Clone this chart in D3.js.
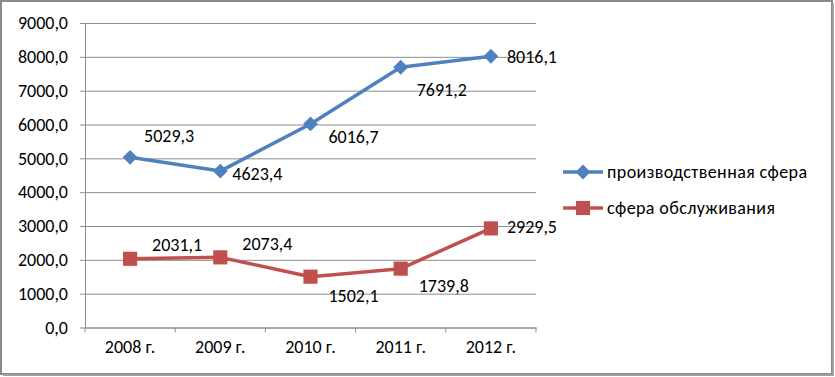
<!DOCTYPE html>
<html>
<head>
<meta charset="utf-8">
<script src="https://cdn.jsdelivr.net/npm/d3@7"></script>
<style>
  html, body { margin: 0; padding: 0; background: #fff; }
  #chart { width: 835px; height: 377px; }
</style>
</head>
<body>
<div id="chart"></div>
<script>
// Data
const years = ["2008 г.", "2009 г.", "2010 г.", "2011 г.", "2012 г."];
const production = [5029.3, 4623.4, 6016.7, 7691.2, 8016.1];
const services = [2031.1, 2073.4, 1502.1, 1739.8, 2929.5];
const seriesNames = ["производственная сфера", "сфера обслуживания"];
const yTicks = [0, 1000, 2000, 3000, 4000, 5000, 6000, 7000, 8000, 9000];

// label offsets per point (relative to marker), mimic Excel placement
const prodLabelPos = [[14, -22], [12, 3], [18, 13], [16, 22], [16, 0]];
const servLabelPos = [[22, -14], [22, -14], [18, 19], [18, 17], [16, -2]];

const W = 835, H = 377;
const margin = { top: 23, right: 299, bottom: 49.5, left: 85 };
const iW = W - margin.left - margin.right;
const iH = H - margin.top - margin.bottom;
const FONT = "Carlito, Lato, 'Open Sans', sans-serif";
const FS = 18;
const BLUE = "#4F81BD", RED = "#C0504D";

const fmt = v => d3.format(".1f")(v).replace(".", ",");

const svg = d3.select("#chart").append("svg")
  .attr("width", W).attr("height", H)
  .style("font-family", FONT);

// outer frame
svg.append("rect").attr("x", 1).attr("y", 1).attr("width", W - 4).attr("height", H - 4)
  .attr("fill", "#fff").attr("stroke", "#8a8a8a").attr("stroke-width", 2);
svg.append("path").attr("d", `M${W - 2},3V${H - 2}H3`)
  .attr("fill", "none").attr("stroke", "#a0a0a0").attr("stroke-width", 2);

const g = svg.append("g").attr("transform", `translate(${margin.left},${margin.top})`);

const x = d3.scaleBand().domain(years).range([0, iW]);
const y = d3.scaleLinear().domain([0, 9000]).range([iH, 0]);
const cx = d => x(d) + x.bandwidth() / 2;

// gridlines
g.append("g")
  .call(d3.axisLeft(y).tickValues(yTicks).tickSize(-iW).tickFormat(""))
  .call(a => a.select(".domain").remove())
  .call(a => a.selectAll(".tick line").attr("x1", -5).attr("x2", iW).attr("stroke", "#8c8c8c"));

// y axis
g.append("g")
  .call(d3.axisLeft(y).tickValues(yTicks).tickSize(0).tickPadding(17).tickFormat(fmt))
  .call(a => a.select(".domain").attr("stroke", "#8c8c8c"))
  .call(a => a.selectAll("text").attr("fill", "#000").attr("font-size", FS).style("font-family", FONT));

// x axis
g.append("g")
  .attr("transform", `translate(0,${iH})`)
  .call(d3.axisBottom(x).tickSize(0).tickPadding(13))
  .call(a => a.select(".domain").attr("stroke", "#8c8c8c"))
  .call(a => a.selectAll("text").attr("fill", "#000").attr("font-size", FS).style("font-family", FONT));

// tick marks at band boundaries
g.append("g").selectAll("line").data(d3.range(years.length + 1))
  .join("line")
  .attr("x1", i => i * x.step()).attr("x2", i => i * x.step())
  .attr("y1", iH).attr("y2", iH + 5)
  .attr("stroke", "#8c8c8c");

const line = d3.line().x((d, i) => cx(years[i])).y(d => y(d));

function marker(sel, shape) {
  // diamond = square rotated 45°
  if (shape === "diamond") {
    sel.attr("d", d3.symbol().type(d3.symbolSquare).size(110)())
      .attr("transform", function() { return d3.select(this).attr("transform") + " rotate(45)"; });
  } else {
    sel.attr("d", d3.symbol().type(d3.symbolSquare).size(200)());
  }
}

function drawSeries(vals, color, shape, labelPos) {
  g.append("path").datum(vals)
    .attr("d", line)
    .attr("fill", "none").attr("stroke", color).attr("stroke-width", 3.5)
    .attr("stroke-linejoin", "round");
  g.selectAll(null).data(vals).join("path")
    .attr("transform", (d, i) => `translate(${cx(years[i])},${y(d)})`)
    .attr("fill", color)
    .call(marker, shape);
  g.selectAll(null).data(vals).join("text")
    .attr("x", (d, i) => cx(years[i]) + labelPos[i][0])
    .attr("y", (d, i) => y(d) + labelPos[i][1])
    .attr("dy", "0.35em")
    .attr("font-size", FS).attr("fill", "#000")
    .text(fmt);
}

drawSeries(production, BLUE, "diamond", prodLabelPos);
drawSeries(services, RED, "square", servLabelPos);

// legend
const legend = svg.append("g").attr("transform", "translate(563,172)");
["diamond", "square"].forEach((s, i) => {
  const c = i === 0 ? BLUE : RED;
  const row = legend.append("g").attr("transform", `translate(0,${i * 36})`);
  row.append("line").attr("x1", 0).attr("x2", 40).attr("stroke", c).attr("stroke-width", 3.5);
  row.append("path").attr("transform", "translate(20,0)").attr("fill", c).call(marker, s);
  row.append("text").attr("x", 44).attr("dy", "0.35em")
    .attr("font-size", FS).attr("letter-spacing", 0.4).attr("fill", "#000").text(seriesNames[i]);
});
</script>
</body>
</html>
